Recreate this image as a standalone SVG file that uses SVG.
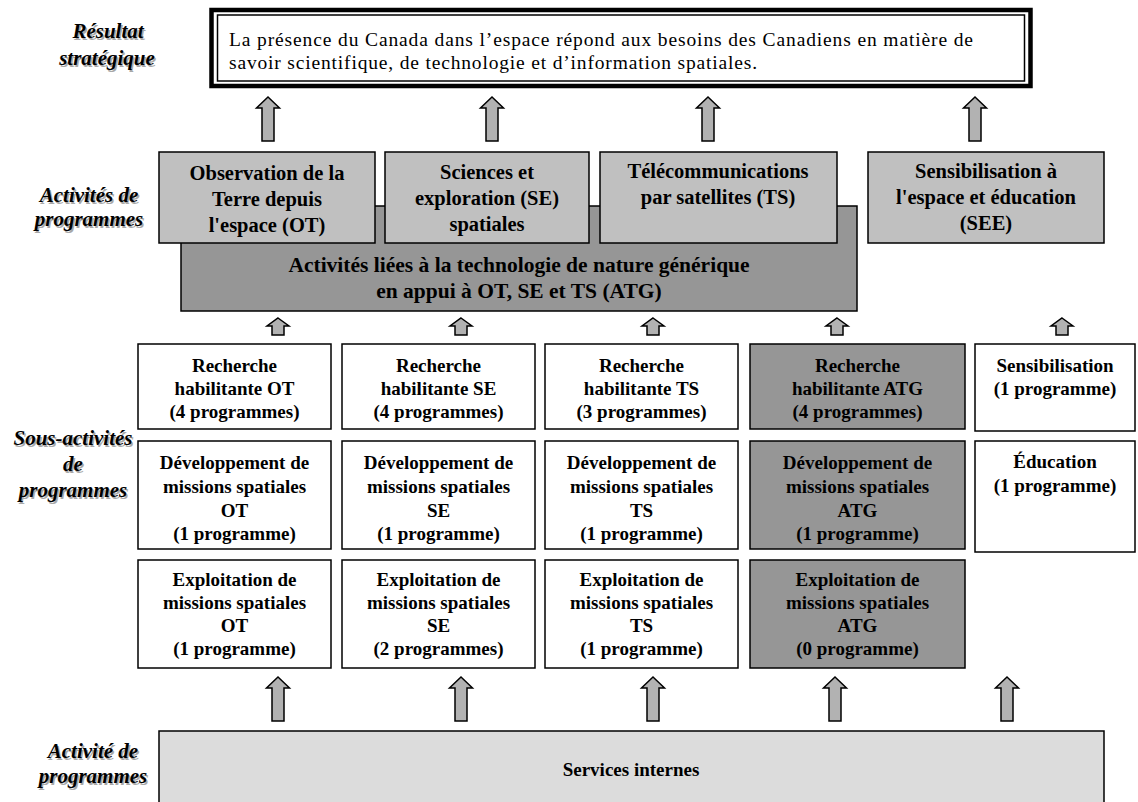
<svg xmlns="http://www.w3.org/2000/svg" width="1138" height="802" viewBox="0 0 1138 802">
<style>
text{font-family:"Liberation Serif","Times New Roman",serif;fill:#000}
.lbl{font-weight:bold;font-style:italic;font-size:21px;text-anchor:middle}
.sh{fill:#a8a8a8}
.pa{font-weight:bold;font-size:20.5px;text-anchor:middle}
.sa{font-weight:bold;font-size:19px;text-anchor:middle}
.top{font-size:19.5px}
.box{stroke:#000;stroke-width:1.5}
.prog{fill:#c0c0c0}
.atg{fill:#969696}
.wh{fill:#fff}
.svc{fill:#dcdcdc}
.arr{fill:#b2b2b2;stroke:#000;stroke-width:1.5;stroke-linejoin:miter}
</style>
<defs>
<path id="big" d="M0,0 L11.5,11 L6,11 L6,44 L-6,44 L-6,11 L-11.5,11 Z"/>
<path id="small" d="M0,0 L11,8 L6,8 L6,17 L-6,17 L-6,8 L-11,8 Z"/>
</defs>
<rect width="1138" height="802" fill="#fff"/>

<g id="labels">
<text class="lbl sh" x="109.5" y="39.5">Résultat</text>
<text class="lbl" x="108" y="38">Résultat</text>
<text class="lbl sh" x="108.5" y="66.5">stratégique</text>
<text class="lbl" x="107" y="65">stratégique</text>
<text class="lbl sh" x="90.5" y="203.5">Activités de</text>
<text class="lbl" x="89" y="202">Activités de</text>
<text class="lbl sh" x="90.5" y="227.5">programmes</text>
<text class="lbl" x="89" y="226">programmes</text>
<text class="lbl sh" x="74.5" y="446.5">Sous-activités</text>
<text class="lbl" x="73" y="445">Sous-activités</text>
<text class="lbl sh" x="74.5" y="472.5">de</text>
<text class="lbl" x="73" y="471">de</text>
<text class="lbl sh" x="74.5" y="498.5">programmes</text>
<text class="lbl" x="73" y="497">programmes</text>
<text class="lbl sh" x="94.5" y="759.5">Activité de</text>
<text class="lbl" x="93" y="758">Activité de</text>
<text class="lbl sh" x="94.5" y="784.5">programmes</text>
<text class="lbl" x="93" y="783">programmes</text>
</g>

<g id="resultat">
<rect x="211.5" y="10" width="819" height="76" fill="#fff" stroke="#000" stroke-width="4.5"/>
<rect x="217.5" y="15" width="807" height="66" fill="none" stroke="#000" stroke-width="1.5"/>
<text class="top" x="229" y="45.5" textLength="744" lengthAdjust="spacing">La présence du Canada dans l’espace répond aux besoins des Canadiens en matière de</text>
<text class="top" x="229" y="68.5" textLength="528" lengthAdjust="spacing">savoir scientifique, de technologie et d’information spatiales.</text>
</g>

<g id="atg">
<rect class="box atg" x="181" y="206" width="676" height="105"/>
<text class="pa" x="519" y="272" style="font-size:21.5px">Activités liées à la technologie de  nature générique</text>
<text class="pa" x="519" y="298" style="font-size:21.5px">en appui à OT, SE et TS (ATG)</text>
</g>

<g id="ot">
<rect class="box prog" x="159" y="152" width="216" height="91"/>
<text class="pa" x="267" y="180">Observation de la</text>
<text class="pa" x="267" y="206">Terre depuis</text>
<text class="pa" x="267" y="232">l'espace (OT)</text>
</g>
<g id="se">
<rect class="box prog" x="385" y="152" width="204" height="91"/>
<text class="pa" x="487" y="179">Sciences et</text>
<text class="pa" x="487" y="205">exploration (SE)</text>
<text class="pa" x="487" y="231">spatiales</text>
</g>
<g id="ts">
<rect class="box prog" x="600" y="152" width="237" height="91"/>
<text class="pa" x="718" y="178">Télécommunications</text>
<text class="pa" x="718" y="204">par satellites (TS)</text>
</g>
<g id="see">
<rect class="box prog" x="868" y="152" width="236" height="91"/>
<text class="pa" x="986" y="178">Sensibilisation à</text>
<text class="pa" x="986" y="204">l'espace et éducation</text>
<text class="pa" x="986" y="230">(SEE)</text>
</g>

<g id="rech-ot">
<rect class="box wh" x="138" y="344" width="193" height="85"/>
<text class="sa" x="234.5" y="372">Recherche</text>
<text class="sa" x="234.5" y="395">habilitante OT</text>
<text class="sa" x="234.5" y="418">(4 programmes)</text>
</g>
<g id="rech-se">
<rect class="box wh" x="342" y="344" width="193" height="85"/>
<text class="sa" x="438.5" y="372">Recherche</text>
<text class="sa" x="438.5" y="395">habilitante SE</text>
<text class="sa" x="438.5" y="418">(4 programmes)</text>
</g>
<g id="rech-ts">
<rect class="box wh" x="545" y="344" width="193" height="85"/>
<text class="sa" x="641.5" y="372">Recherche</text>
<text class="sa" x="641.5" y="395">habilitante TS</text>
<text class="sa" x="641.5" y="418">(3 programmes)</text>
</g>
<g id="rech-atg">
<rect class="box atg" x="750" y="344" width="215" height="85"/>
<text class="sa" x="857.5" y="372">Recherche</text>
<text class="sa" x="857.5" y="395">habilitante ATG</text>
<text class="sa" x="857.5" y="418">(4 programmes)</text>
</g>
<g id="sensib">
<rect class="box wh" x="975" y="344" width="160" height="87"/>
<text class="sa" x="1055" y="372">Sensibilisation</text>
<text class="sa" x="1055" y="395">(1 programme)</text>
</g>

<g id="dev-ot">
<rect class="box wh" x="138" y="441" width="193" height="108"/>
<text class="sa" x="234.5" y="469">Développement de</text>
<text class="sa" x="234.5" y="493">missions spatiales</text>
<text class="sa" x="234.5" y="517">OT</text>
<text class="sa" x="234.5" y="540">(1 programme)</text>
</g>
<g id="dev-se">
<rect class="box wh" x="342" y="441" width="193" height="108"/>
<text class="sa" x="438.5" y="469">Développement de</text>
<text class="sa" x="438.5" y="493">missions spatiales</text>
<text class="sa" x="438.5" y="517">SE</text>
<text class="sa" x="438.5" y="540">(1 programme)</text>
</g>
<g id="dev-ts">
<rect class="box wh" x="545" y="441" width="193" height="108"/>
<text class="sa" x="641.5" y="469">Développement de</text>
<text class="sa" x="641.5" y="493">missions spatiales</text>
<text class="sa" x="641.5" y="517">TS</text>
<text class="sa" x="641.5" y="540">(1 programme)</text>
</g>
<g id="dev-atg">
<rect class="box atg" x="750" y="441" width="215" height="108"/>
<text class="sa" x="857.5" y="469">Développement de</text>
<text class="sa" x="857.5" y="493">missions spatiales</text>
<text class="sa" x="857.5" y="517">ATG</text>
<text class="sa" x="857.5" y="540">(1 programme)</text>
</g>
<g id="educ">
<rect class="box wh" x="975" y="441" width="160" height="111"/>
<text class="sa" x="1055" y="468">Éducation</text>
<text class="sa" x="1055" y="492">(1 programme)</text>
</g>

<g id="exp-ot">
<rect class="box wh" x="138" y="560" width="193" height="108"/>
<text class="sa" x="234.5" y="586">Exploitation de</text>
<text class="sa" x="234.5" y="609">missions spatiales</text>
<text class="sa" x="234.5" y="632">OT</text>
<text class="sa" x="234.5" y="655">(1 programme)</text>
</g>
<g id="exp-se">
<rect class="box wh" x="342" y="560" width="193" height="108"/>
<text class="sa" x="438.5" y="586">Exploitation de</text>
<text class="sa" x="438.5" y="609">missions spatiales</text>
<text class="sa" x="438.5" y="632">SE</text>
<text class="sa" x="438.5" y="655">(2 programmes)</text>
</g>
<g id="exp-ts">
<rect class="box wh" x="545" y="560" width="193" height="108"/>
<text class="sa" x="641.5" y="586">Exploitation de</text>
<text class="sa" x="641.5" y="609">missions spatiales</text>
<text class="sa" x="641.5" y="632">TS</text>
<text class="sa" x="641.5" y="655">(1 programme)</text>
</g>
<g id="exp-atg">
<rect class="box atg" x="750" y="560" width="215" height="108"/>
<text class="sa" x="857.5" y="586">Exploitation de</text>
<text class="sa" x="857.5" y="609">missions spatiales</text>
<text class="sa" x="857.5" y="632">ATG</text>
<text class="sa" x="857.5" y="655">(0 programme)</text>
</g>

<g id="services">
<rect class="box svc" x="159" y="731" width="945" height="90"/>
<text class="sa" x="631" y="776">Services internes</text>
</g>

<g id="connectors">
<use href="#big" class="arr" x="268" y="97"/>
<use href="#big" class="arr" x="492" y="97"/>
<use href="#big" class="arr" x="708" y="97"/>
<use href="#big" class="arr" x="975" y="97"/>
<use href="#small" class="arr" x="278" y="318"/>
<use href="#small" class="arr" x="461" y="318"/>
<use href="#small" class="arr" x="653" y="318"/>
<use href="#small" class="arr" x="837" y="318"/>
<use href="#small" class="arr" x="1062" y="318"/>
<use href="#big" class="arr" x="278" y="677"/>
<use href="#big" class="arr" x="461" y="677"/>
<use href="#big" class="arr" x="653" y="677"/>
<use href="#big" class="arr" x="835" y="677"/>
<use href="#big" class="arr" x="1007" y="677"/>
</g>
</svg>
